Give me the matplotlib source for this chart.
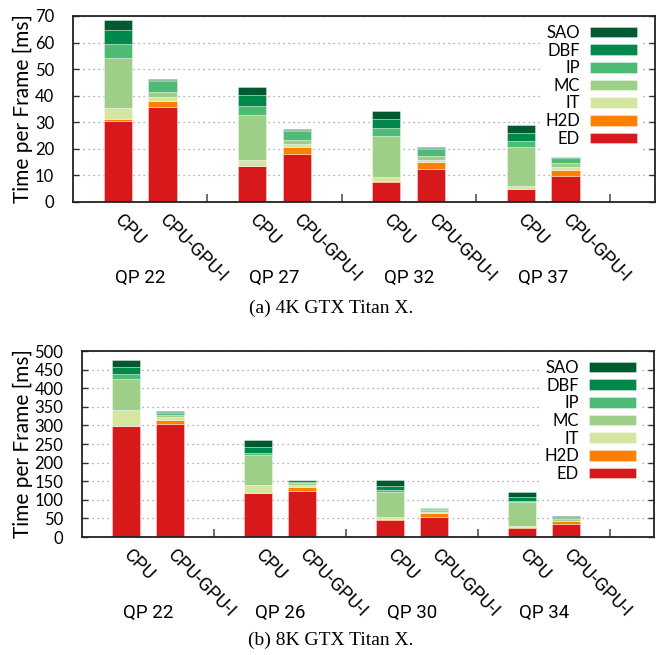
import matplotlib
matplotlib.use('Agg')
import matplotlib.pyplot as plt
import numpy as np

# bar order: CPU, CPU-GPU-I for each QP
bar_labels = ['CPU', 'CPU-GPU-I'] * 4
qp_4k = ['QP 22', 'QP 27', 'QP 32', 'QP 37']
qp_8k = ['QP 22', 'QP 26', 'QP 30', 'QP 34']
stages = ['ED', 'H2D', 'IT', 'MC', 'IP', 'DBF', 'SAO']
colors = ['#d7191c', '#ff7f00', '#d5e6a0', '#9ecf89', '#4dbb73', '#00894a', '#005a30']

# 4K, GTX Titan X  [ms]
ed_4k = [30.6, 35.6, 13.4, 18.2, 7.6, 12.4, 4.8, 9.8]
h2d_4k = [0.5, 2.5, 0.3, 2.5, 0.2, 2.5, 0.1, 2.4]
it_4k = [4.3, 1.5, 2.2, 1.1, 1.6, 0.8, 1.1, 1.0]
mc_4k = [18.7, 1.7, 16.7, 1.5, 15.4, 1.7, 14.7, 1.4]
ip_4k = [5.4, 4.2, 3.5, 3.4, 2.9, 2.4, 2.3, 1.8]
dbf_4k = [5.2, 0.6, 4.2, 0.4, 3.5, 0.6, 3.1, 0.5]
sao_4k = [3.8, 0.3, 3.1, 0.2, 3.0, 0.3, 2.9, 0.2]

# 8K, GTX Titan X  [ms]
ed_8k = [298, 305, 117, 124, 47, 54, 25.5, 34]
h2d_8k = [1, 10, 1, 11, 0.5, 10, 0.5, 8]
it_8k = [43, 7, 22, 4, 6, 3, 3.5, 2]
mc_8k = [84, 6, 81, 6, 68, 5, 64.5, 4]
ip_8k = [11, 5, 6, 4, 4, 3.5, 3.5, 4]
dbf_8k = [19, 4, 16, 3, 12, 2.5, 10, 3]
sao_8k = [20, 2, 18, 2, 15, 1, 13.5, 2]

FONT = 'Lato'


def panel(ax, series, qps, ymax, ystep, caption, cap_y, left_px):
    x = np.array([3 * g + k for g in range(4) for k in (1, 2)], dtype=float)
    bottom = np.zeros(len(x))
    handles = []
    for name, vals, c in zip(stages, series, colors):
        vals = np.array(vals, dtype=float)
        b = ax.bar(x, vals, 0.63, bottom=bottom, color=c,
                   edgecolor=(1, 1, 1, 0.5), linewidth=0.5, label=name, zorder=2)
        handles.append(b)
        bottom += vals

    ax.set_xlim(0, 13)
    ax.set_ylim(0, ymax)
    ax.set_yticks(np.arange(0, ymax + 1, ystep))
    ax.yaxis.grid(True, linestyle=(0, (1, 3)), color='#999999', linewidth=0.9)
    ax.set_axisbelow(True)

    ax.set_xticks(x)
    ax.set_xticklabels(bar_labels, rotation=-45, ha='left', va='center',
                       rotation_mode='anchor', family='Roboto', fontsize=13.5)
    ax.tick_params(axis='x', which='major', length=0, pad=11)
    ax.set_xticks([3, 6, 9, 12], minor=True)
    ax.tick_params(axis='x', which='minor', direction='in', length=6, width=1.2,
                   color='#555555')
    ax.tick_params(axis='y', direction='in', left=True, right=True, length=4,
                   width=1, pad=13.5, labelsize=12, color='#333333')
    for lab in ax.get_yticklabels():
        lab.set_family(FONT)

    for s in ax.spines.values():
        s.set_linewidth(1.3)
        s.set_color('#222222')

    w, h = ax.bbox.width, ax.bbox.height
    ax.set_ylabel('Time per Frame [ms]', family=FONT, fontsize=15)
    ax.yaxis.set_label_coords((33 - left_px) / w, 0.5)

    for g, q in enumerate(qps):
        ax.annotate(q, xy=(3 * g + 1.5, 0), xycoords=('data', 'axes fraction'),
                    xytext=(0, -55), textcoords='offset points', ha='center',
                    va='center', family='Roboto', fontsize=13.5)

    # legend: labels on the left of the swatches, right-aligned
    leg = ax.legend(handles[::-1], stages[::-1], loc='upper right',
                    bbox_to_anchor=(1 - 15 / w, 1 - 5.5 / h),
                    markerfirst=False, frameon=True, framealpha=1, fancybox=False,
                    edgecolor='none', handlelength=2.8, handleheight=0.6,
                    labelspacing=0.1, handletextpad=0.6, borderaxespad=0,
                    borderpad=0.2, prop={'family': FONT, 'size': 12})
    leg.get_frame().set_linewidth(0)
    for t in leg.get_texts():
        t.set_ha('right')

    ax.figure.text(0.5, cap_y, caption, ha='center', va='center',
                   family='Liberation Serif', fontsize=14)


fig = plt.figure(figsize=(6.62, 6.55), dpi=100)
ax1 = fig.add_axes([73 / 662, 1 - 202 / 655, 582 / 662, 186 / 655])
ax2 = fig.add_axes([82 / 662, 1 - 537 / 655, 572 / 662, 186 / 655])

panel(ax1, [ed_4k, h2d_4k, it_4k, mc_4k, ip_4k, dbf_4k, sao_4k], qp_4k,
      70, 10, '(a) 4K GTX Titan X.', 1 - 308 / 655, 73)
panel(ax2, [ed_8k, h2d_8k, it_8k, mc_8k, ip_8k, dbf_8k, sao_8k], qp_8k,
      500, 50, '(b) 8K GTX Titan X.', 1 - 640 / 655, 82)

fig.savefig('out.png', dpi=100)
